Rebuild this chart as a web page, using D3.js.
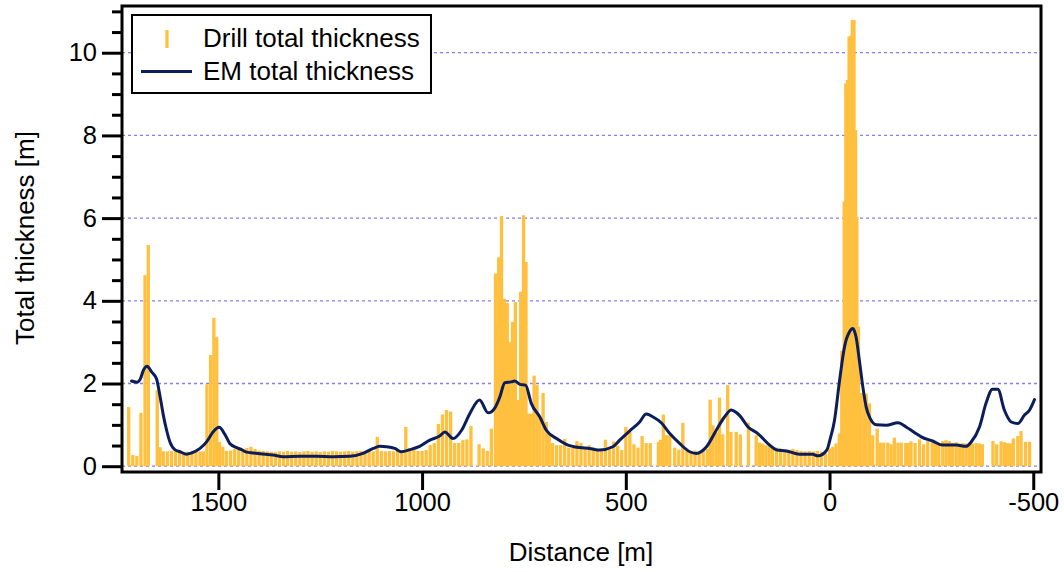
<!DOCTYPE html>
<html>
<head>
<meta charset="utf-8">
<script src="https://cdn.jsdelivr.net/npm/d3@7"></script>
<style>
  body { margin: 0; background: #fff; }
  svg { display: block; }
  text { font-family: "Liberation Sans", Arial, Helvetica, sans-serif; fill: #000; }
</style>
</head>
<body>
<svg id="chart" width="1064" height="572"></svg>
<script>
// Drill-hole total thickness along the profile (distance in m, thickness in m)
const drillDistance = [
  1720, 1710, 1700, 1690, 1680, 1672, 1650, 1643, 1635, 1625, 1615, 1605, 1595, 1585, 1575, 1565,
  1555, 1545, 1537, 1528, 1519, 1511, 1504, 1497, 1489, 1480, 1470, 1460, 1450, 1440, 1430, 1420,
  1410, 1400, 1390, 1380, 1370, 1360, 1350, 1340, 1330, 1320, 1310, 1300, 1290, 1280, 1270, 1260,
  1250, 1240, 1230, 1220, 1210, 1200, 1190, 1180, 1170, 1160, 1150, 1140, 1130, 1120, 1110, 1100,
  1090, 1080, 1070, 1060, 1050, 1040, 1030, 1020, 1010, 1000, 990, 980, 970, 960, 950, 940,
  930, 920, 910, 900, 890, 880, 860, 850, 840, 830, 820, 812, 805, 798, 791, 785,
  778, 771, 765, 758, 751, 745, 739, 732, 725, 718, 711, 703, 695, 688, 680, 670,
  660, 650, 640, 630, 620, 610, 600, 590, 580, 570, 560, 550, 540, 530, 520, 510,
  500, 490, 480, 470, 460, 450, 440, 420, 415, 408, 400, 392, 380, 370, 360, 350,
  340, 330, 320, 310, 300, 293, 286, 278, 270, 262, 250, 242, 229, 219, 199, 180,
  172, 164, 156, 148, 140, 130, 120, 110, 100, 90, 80, 70, 60, 50, 40, 30,
  20, 10, 0, -8, -16, -24, -30, -36, -40, -44, -48, -52, -56, -60, -64, -67,
  -71, -76, -84, -90, -98, -106, -117, -125, -133, -143, -151, -159, -168, -176, -187, -193,
  -200, -210, -221, -231, -241, -252, -260, -268, -278, -286, -294, -302, -311, -319, -327, -335,
  -343, -351, -360, -368, -375, -401, -410, -421, -429, -437, -444, -451, -462, -470, -481, -491
];
const drillThickness = [
  1.43, 0.27, 0.25, 1.29, 4.62, 5.35, 1.84, 0.46, 0.36, 0.36, 0.37, 0.36, 0.36, 0.35, 0.35, 0.34,
  0.35, 0.36, 0.36, 1.98, 2.69, 3.59, 3.12, 0.59, 0.47, 0.37, 0.38, 0.42, 0.42, 0.42, 0.44, 0.47,
  0.42, 0.38, 0.37, 0.36, 0.35, 0.34, 0.36, 0.35, 0.37, 0.35, 0.36, 0.34, 0.36, 0.37, 0.35, 0.36,
  0.34, 0.36, 0.35, 0.37, 0.36, 0.35, 0.36, 0.37, 0.35, 0.36, 0.37, 0.36, 0.37, 0.36, 0.71, 0.37,
  0.36, 0.37, 0.36, 0.37, 0.35, 0.95, 0.37, 0.40, 0.37, 0.37, 0.39, 0.51, 0.56, 1.02, 1.25, 1.36,
  1.32, 0.56, 0.56, 0.63, 0.65, 0.97, 0.53, 0.43, 0.37, 0.91, 4.66, 5.05, 6.05, 4.05, 3.95, 3.00,
  3.49, 3.97, 1.60, 4.22, 6.07, 4.94, 1.27, 1.27, 2.19, 1.96, 1.19, 1.77, 1.07, 0.75, 0.56, 0.51,
  0.51, 0.66, 0.45, 0.45, 0.61, 0.56, 0.45, 0.51, 0.45, 0.39, 0.41, 0.64, 0.41, 0.60, 0.50, 0.39,
  0.95, 0.83, 0.53, 0.45, 0.73, 0.56, 0.56, 0.59, 0.64, 1.25, 0.75, 0.75, 0.45, 0.40, 1.05, 0.40,
  0.37, 0.38, 0.35, 0.37, 0.42, 1.61, 0.99, 0.81, 1.66, 0.77, 1.96, 0.83, 0.83, 0.77, 1.05, 0.75,
  0.57, 0.55, 0.51, 0.49, 0.45, 0.45, 0.43, 0.39, 0.40, 0.42, 0.39, 0.37, 0.36, 0.37, 0.36, 0.37,
  0.35, 0.31, 0.43, 0.47, 0.55, 0.79, 2.79, 6.40, 9.26, 9.34, 10.39, 10.41, 10.79, 10.79, 8.13, 6.03,
  3.37, 1.77, 1.77, 1.75, 1.52, 0.75, 0.91, 0.57, 0.57, 0.57, 0.53, 0.69, 0.57, 0.57, 0.56, 0.56,
  0.60, 0.56, 0.65, 0.53, 0.61, 0.57, 0.56, 0.53, 0.61, 0.63, 0.61, 0.56, 0.58, 0.55, 0.56, 0.55,
  0.55, 0.55, 0.56, 0.55, 0.53, 0.61, 0.53, 0.60, 0.58, 0.56, 0.55, 0.67, 0.73, 0.85, 0.59, 0.59
];

// EM-derived total thickness along the same profile
const emDistance = [
  1713, 1700, 1692, 1684, 1675, 1664, 1652, 1643, 1635, 1627, 1619, 1607, 1594, 1578, 1566, 1545,
  1529, 1513, 1498, 1484, 1472, 1455, 1443, 1431, 1415, 1398, 1366, 1341, 1300, 1259, 1218, 1177,
  1145, 1120, 1104, 1087, 1067, 1051, 1030, 1006, 981, 957, 944, 924, 903, 883, 859, 838,
  822, 809, 797, 781, 773, 760, 746, 732, 711, 695, 670, 646, 613, 589, 564, 532,
  515, 491, 466, 450, 433, 413, 392, 368, 343, 327, 302, 278, 258, 241, 229, 221,
  200, 176, 147, 131, 106, 74, 41, 29, 12, 4, 0, -12, -25, -37, -49, -57,
  -65, -74, -82, -90, -100, -115, -139, -168, -188, -209, -225, -253, -278, -311, -335, -348,
  -368, -384, -400, -413, -429, -446, -462, -478, -491, -503
];
const emThickness = [
  2.06, 2.03, 2.10, 2.32, 2.42, 2.28, 2.12, 1.68, 1.23, 0.87, 0.59, 0.40, 0.35, 0.29, 0.32, 0.43,
  0.59, 0.83, 0.94, 0.77, 0.55, 0.45, 0.40, 0.34, 0.32, 0.30, 0.27, 0.23, 0.24, 0.24, 0.23, 0.24,
  0.31, 0.43, 0.48, 0.47, 0.43, 0.35, 0.40, 0.48, 0.63, 0.73, 0.83, 0.67, 0.87, 1.27, 1.60, 1.29,
  1.40, 1.68, 2.02, 2.04, 2.06, 1.98, 1.96, 1.52, 1.19, 0.87, 0.67, 0.53, 0.45, 0.43, 0.39, 0.47,
  0.63, 0.85, 1.07, 1.26, 1.19, 1.05, 0.79, 0.55, 0.35, 0.31, 0.47, 0.87, 1.19, 1.36, 1.30, 1.23,
  0.95, 0.79, 0.51, 0.40, 0.37, 0.29, 0.29, 0.25, 0.33, 0.45, 0.60, 1.10, 2.10, 2.90, 3.25, 3.33,
  3.13, 2.50, 1.90, 1.43, 1.15, 1.00, 0.99, 1.05, 0.95, 0.81, 0.71, 0.61, 0.51, 0.51, 0.48, 0.59,
  0.95, 1.52, 1.86, 1.86, 1.36, 1.07, 1.03, 1.23, 1.36, 1.61
];

const xTickValues = [1500, 1000, 500, 0, -500];
const yTickValues = [0, 2, 4, 6, 8, 10];
const yMinorTickValues = [0.5, 1, 1.5, 2.5, 3, 3.5, 4.5, 5, 5.5, 6.5, 7, 7.5, 8.5, 9, 9.5, 10.5, 11];
const xTitle = "Distance [m]";
const yTitle = "Total thickness [m]";
const legendLabels = ["Drill total thickness", "EM total thickness"];

const drillColor = "#FFC03F";
const emColor = "#0B1D5B";
const gridColor = "#8080F2";

const plot = { left: 122, right: 1041, top: 6, bottom: 472 };

const svg = d3.select("#chart");

const x = d3.scaleLinear().domain([1736.5, -519]).range([plot.left, plot.right]);
const y = d3.scaleLinear().domain([-0.14, 11.13]).range([plot.bottom, plot.top]);

// plain hyphen for negative tick labels
const numLabel = d => String(d);

// horizontal dotted grid at major y ticks
svg.append("g")
  .selectAll("line")
  .data(yTickValues)
  .join("line")
  .attr("x1", plot.left).attr("x2", plot.right)
  .attr("y1", d => y(d)).attr("y2", d => y(d))
  .attr("stroke", gridColor)
  .attr("stroke-width", 1.3)
  .attr("stroke-dasharray", "3,3");

// drill sticks
const drill = drillDistance.map((d, i) => ({ d, v: drillThickness[i] }));
const barW = 3.3;
svg.append("g")
  .selectAll("rect")
  .data(drill)
  .join("rect")
  .attr("x", p => x(p.d) - barW / 2)
  .attr("width", barW)
  .attr("y", p => y(p.v))
  .attr("height", p => y(0) - y(p.v))
  .attr("fill", drillColor);

// EM curve
const em = emDistance.map((d, i) => ({ d, v: emThickness[i] }));
const line = d3.line()
  .x(p => x(p.d))
  .y(p => y(p.v))
  .curve(d3.curveMonotoneX);
svg.append("path")
  .datum(em)
  .attr("d", line)
  .attr("fill", "none")
  .attr("stroke", emColor)
  .attr("stroke-width", 3)
  .attr("stroke-linejoin", "round")
  .attr("stroke-linecap", "round");

// frame
svg.append("rect")
  .attr("x", plot.left).attr("y", plot.top)
  .attr("width", plot.right - plot.left)
  .attr("height", plot.bottom - plot.top)
  .attr("fill", "none")
  .attr("stroke", "#000")
  .attr("stroke-width", 3);

// x axis (reversed distance)
const xAxis = d3.axisBottom(x)
  .tickValues(xTickValues)
  .tickSize(18)
  .tickPadding(3)
  .tickFormat(numLabel);
const gx = svg.append("g")
  .attr("transform", `translate(0,${plot.bottom})`)
  .call(xAxis);
gx.select(".domain").remove();
gx.selectAll(".tick line").attr("stroke", "#000").attr("stroke-width", 3);
gx.selectAll(".tick text")
  .attr("font-size", 25.5)
  .attr("font-family", "'Liberation Sans', Arial, sans-serif")
  .attr("dy", "0.71em")
  .attr("fill", "#000");

// y axis with major and minor ticks
const yAxis = d3.axisLeft(y)
  .tickValues(yTickValues)
  .tickSize(20)
  .tickPadding(5)
  .tickFormat(numLabel);
const gy = svg.append("g")
  .attr("transform", `translate(${plot.left},0)`)
  .call(yAxis);
gy.select(".domain").remove();
gy.selectAll(".tick line").attr("stroke", "#000").attr("stroke-width", 3);
gy.selectAll(".tick text")
  .attr("font-size", 25.5)
  .attr("font-family", "'Liberation Sans', Arial, sans-serif")
  .attr("fill", "#000");

const yMinor = d3.axisLeft(y).tickValues(yMinorTickValues).tickSize(10).tickFormat("");
const gym = svg.append("g")
  .attr("transform", `translate(${plot.left},0)`)
  .call(yMinor);
gym.select(".domain").remove();
gym.selectAll(".tick line").attr("stroke", "#000").attr("stroke-width", 3);

// axis titles
svg.append("text")
  .attr("x", 581).attr("y", 561)
  .attr("text-anchor", "middle")
  .attr("font-size", 26)
  .text(xTitle);
svg.append("text")
  .attr("transform", "translate(34,238) rotate(-90)")
  .attr("text-anchor", "middle")
  .attr("font-size", 26)
  .text(yTitle);

// legend
const lg = svg.append("g");
lg.append("rect")
  .attr("x", 132).attr("y", 15)
  .attr("width", 299).attr("height", 78)
  .attr("fill", "#fff")
  .attr("stroke", "#000")
  .attr("stroke-width", 2);
lg.append("line")
  .attr("x1", 167).attr("x2", 167)
  .attr("y1", 30).attr("y2", 48)
  .attr("stroke", drillColor)
  .attr("stroke-width", 3.3);
lg.append("line")
  .attr("x1", 141).attr("x2", 192)
  .attr("y1", 71.5).attr("y2", 71.5)
  .attr("stroke", emColor)
  .attr("stroke-width", 3);
lg.selectAll("text.lab")
  .data(legendLabels)
  .join("text")
  .attr("class", "lab")
  .attr("x", 203)
  .attr("y", (d, i) => 47 + i * 33)
  .attr("font-size", 26)
  .text(d => d);
</script>
</body>
</html>
